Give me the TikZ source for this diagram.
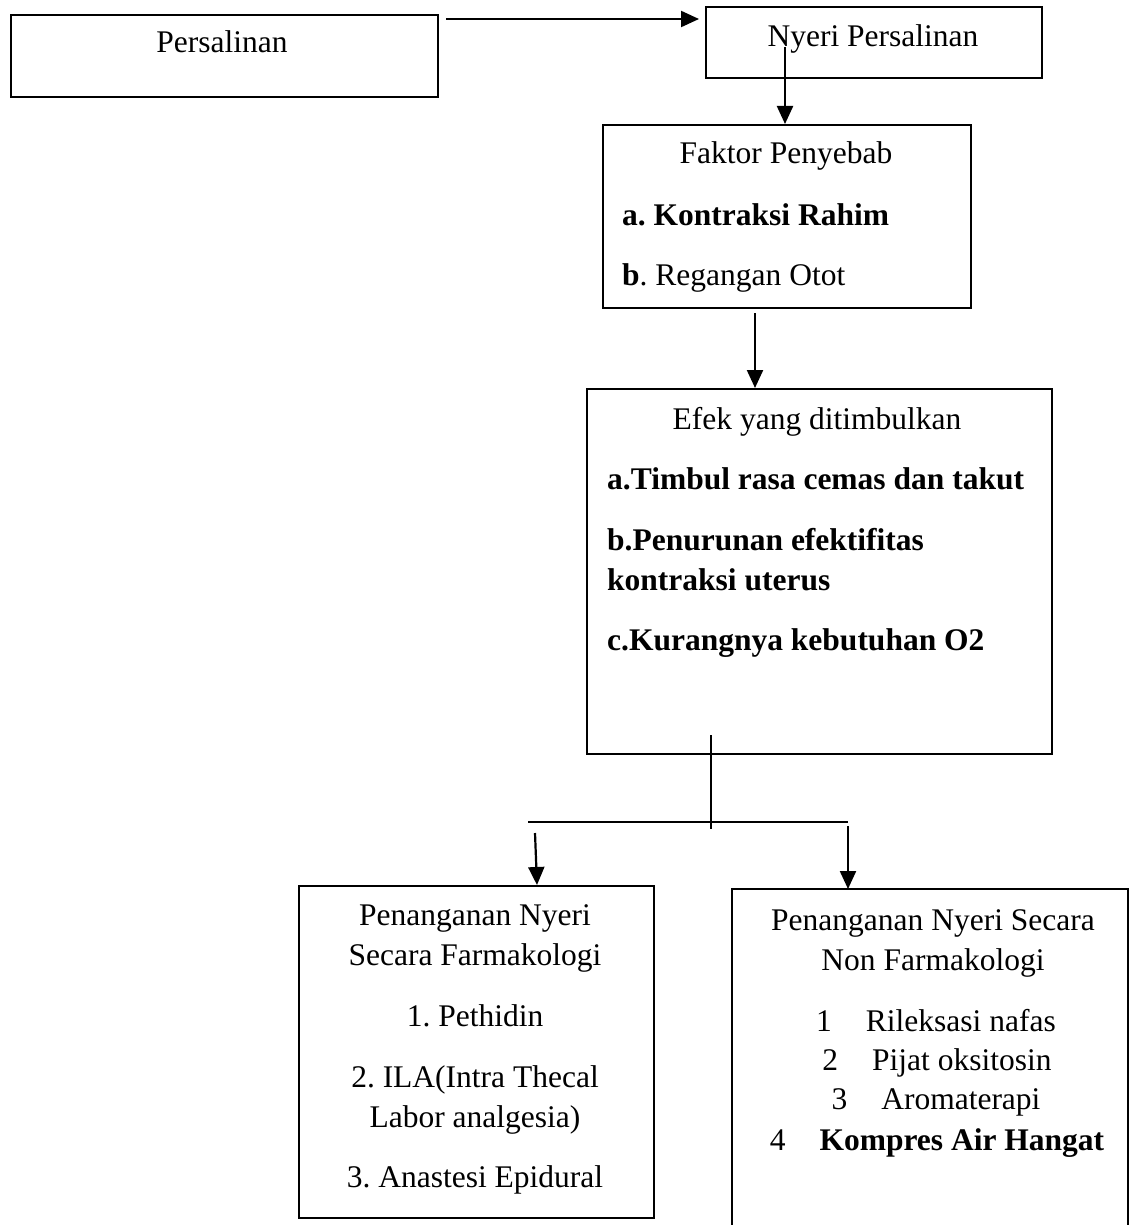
\documentclass[tikz,border=0pt]{standalone}
\usepackage{fontspec}
\setmainfont{Liberation Serif}
\usetikzlibrary{arrows.meta}
\frenchspacing
\begin{document}
\begin{tikzpicture}[x=1pt,y=-1pt,
  box/.style={draw=black,line width=2pt,anchor=north west,inner sep=0pt},
  txt/.style={anchor=base,inner sep=0pt,font=\fontsize{31.5}{38}\selectfont},
  ltxt/.style={anchor=base west,inner sep=0pt,font=\fontsize{31.5}{38}\selectfont},
  ln/.style={line width=2pt},
  arr/.style={line width=2.2pt,-{Triangle[width=16pt,length=18pt]}}]
\useasboundingbox (0,0) rectangle (1132,1225);
% boxes
\node[box,minimum width=427pt,minimum height=82pt] (pers) at (10,14) {};
\node[box,minimum width=336pt,minimum height=71pt] (nyeri) at (705,6) {};
\node[box,minimum width=368pt,minimum height=183pt] (faktor) at (602,124) {};
\node[box,minimum width=465pt,minimum height=365pt] (efek) at (586,388) {};
\node[box,minimum width=355pt,minimum height=332pt] (farm) at (298,885) {};
\coordinate (nfbl) at (732,1226);
\coordinate (nftl) at (732,889);
\coordinate (nftr) at (1128,889);
\coordinate (nfbr) at (1128,1226);
\draw[line width=2pt] (nfbl) -- (nftl) -- (nftr) -- (nfbr);
% texts
\node[txt] (t1) at (222,53) {Persalinan};
\node[txt] (t2) at (873,47) {Nyeri Persalinan};
\node[txt] (t3) at (786,164) {Faktor Penyebab};
\node[ltxt] (t4) at (622,225) {\textbf{a. Kontraksi Rahim}};
\node[ltxt] (t5) at (622,285) {\textbf{b}. Regangan Otot};
\node[txt] (t6) at (817,429) {Efek yang ditimbulkan};
\node[ltxt] (t7) at (607,489) {\textbf{a.Timbul rasa cemas dan takut}};
\node[ltxt] (t8) at (607,550) {\textbf{b.Penurunan efektifitas}};
\node[ltxt] (t9) at (607,590) {\textbf{kontraksi uterus}};
\node[ltxt] (t10) at (607,650) {\textbf{c.Kurangnya kebutuhan O2}};
\node[txt] (f1) at (475,925) {Penanganan Nyeri};
\node[txt] (f2) at (475,965) {Secara Farmakologi};
\node[txt] (f3) at (475,1026) {1. Pethidin};
\node[txt] (f4) at (475,1087) {2. ILA(Intra Thecal};
\node[txt] (f5) at (475,1127) {Labor analgesia)};
\node[txt] (f6) at (475,1187) {3. Anastesi Epidural};
\node[txt] (n1) at (933,930) {Penanganan Nyeri Secara};
\node[txt] (n2) at (933,970) {Non Farmakologi};
\node[txt] (n3) at (936,1031) {1\hspace{34pt}Rileksasi nafas};
\node[txt] (n4) at (937,1070) {2\hspace{34pt}Pijat oksitosin};
\node[txt] (n5) at (936,1109) {3\hspace{34pt}Aromaterapi};
\node[txt] (n6) at (937,1150) {4\hspace{34pt}\textbf{Kompres Air Hangat}};
% connectors
\coordinate (c1) at (446,19);
\draw[arr,shorten >=6pt] (c1) -- (c1 -| nyeri.west);
\coordinate (c2) at (785,47);
\draw[arr] (c2) -- (c2 |- faktor.north);
\coordinate (c3) at (755,313);
\draw[arr] (c3) -- (c3 |- efek.north);
\coordinate (c4) at (711,735);
\coordinate (c5) at (711,829);
\draw[ln] (c4) -- (c5);
\coordinate (h1) at (528,822);
\coordinate (h2) at (848,822);
\draw[ln] (h1) -- (h2);
\coordinate (c6) at (535,833);
\coordinate (c7) at (537,885);
\draw[arr] (c6) -- (c7);
\coordinate (c8) at (848,826);
\draw[arr] (c8) -- (c8 |- nftr);
\end{tikzpicture}
\end{document}
